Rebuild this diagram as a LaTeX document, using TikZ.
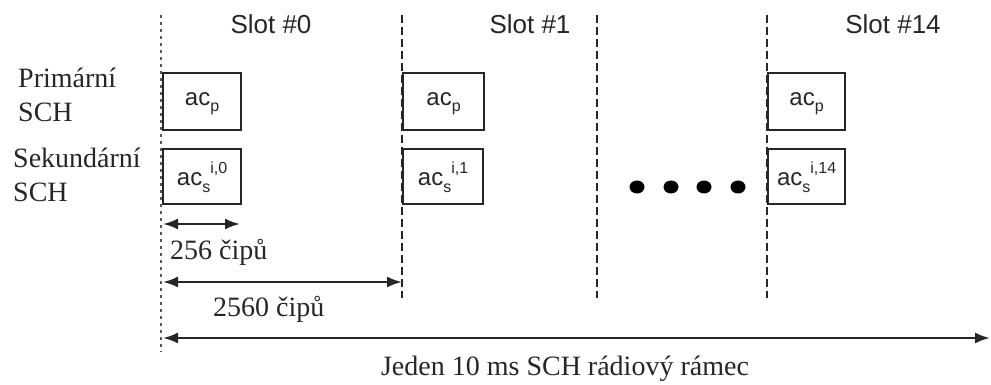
\documentclass[tikz,border=0pt]{standalone}
\usepackage{fontspec}
\setmainfont{Liberation Serif}
\newfontfamily\arialf{Liberation Sans}
\usetikzlibrary{arrows.meta}
\tikzset{
  box/.style={draw=black!85, line width=2.2pt, inner sep=0pt, anchor=north west, minimum height=#1},
  box/.default=57pt,
  slotline/.style={draw=black!85, line width=2.2pt, dash pattern=on 8pt off 4pt},
  firstline/.style={draw=black!65, line width=2.2pt, dash pattern=on 3pt off 4pt},
  serif/.style={font=\fontsize{28}{30}\selectfont, inner sep=0pt, text=black!85},
  sanslabel/.style={font=\arialf\fontsize{26}{28}\selectfont, inner sep=0pt, text=black!85},
  boxtext/.style={font=\arialf\fontsize{24}{26}\selectfont, text=black!85},
  dimarrow/.style={line width=2.2pt, black!85, {Latex[length=15pt,width=11pt]}-{Latex[length=15pt,width=11pt]}}
}
\newcommand{\lowp}[1]{\raisebox{-0.28em}{\fontsize{16}{16}\selectfont #1}}
\newcommand{\highp}[1]{\raisebox{0.5em}{\fontsize{16}{16}\selectfont #1}}
\begin{document}
\begin{tikzpicture}[x=1pt,y=-1pt]
\useasboundingbox (0,0) rectangle (991,385);
% vertical slot lines
\coordinate (l0t) at (161,15);  \coordinate (l0b) at (161,352);
\coordinate (l1t) at (402,15);  \coordinate (l1b) at (402,298);
\coordinate (l2t) at (597,15);  \coordinate (l2b) at (597,298);
\coordinate (l3t) at (767,15);  \coordinate (l3b) at (767,298);
\draw[firstline] (l0t) -- (l0b);
\draw[slotline] (l1t) -- (l1b);
\draw[slotline] (l2t) -- (l2b);
\draw[slotline] (l3t) -- (l3b);
% slot labels
\node[sanslabel] (s0lab) at (271,24) {Slot \#0};
\node[sanslabel] (s1lab) at (530,24) {Slot \#1};
\node[sanslabel] (s14lab) at (893,24) {Slot \#14};
% row labels
\node[serif, anchor=west] (prim) at (18,78) {Primární};
\node[serif, anchor=west] (prims) at (18,112) {SCH};
\node[serif, anchor=west] (sek) at (13,158) {Sekundární};
\node[serif, anchor=west] (seks) at (13,192) {SCH};
% boxes
\node[box, minimum width=78pt] (p0) at (162,72) {};
\node[box=55pt, minimum width=78pt] (q0) at (162,148) {};
\node[box, minimum width=81pt] (p1) at (402,72) {};
\node[box=55pt, minimum width=80pt] (q1) at (402,148) {};
\node[box, minimum width=77pt] (p14) at (767,72) {};
\node[box=55pt, minimum width=77pt] (q14) at (767,148) {};
\node[boxtext] (tp0) at ([yshift=-2pt]p0.center) {ac\lowp{p}};
\node[boxtext] (tp1) at ([yshift=-2pt]p1.center) {ac\lowp{p}};
\node[boxtext] (tp14) at ([yshift=-2pt]p14.center) {ac\lowp{p}};
\node[boxtext] (tq0) at ([yshift=-1pt]q0.center) {ac\lowp{s}\highp{i,0}};
\node[boxtext] (tq1) at ([yshift=-1pt]q1.center) {ac\lowp{s}\highp{i,1}};
\node[boxtext] (tq14) at ([yshift=-1pt]q14.center) {ac\lowp{s}\highp{i,14}};
% dots
\foreach \x in {637,671,704,738}
  \fill[black] (\x,187) ellipse [x radius=7.5pt, y radius=6.5pt];
% dimension arrows
\coordinate (a1l) at (163,224); \coordinate (a1r) at (240,224);
\coordinate (a2l) at (163,282); \coordinate (a2r) at (402,282);
\coordinate (a3l) at (163,338); \coordinate (a3r) at (990,338);
\draw[dimarrow] (a1l) -- (a1r);
\draw[dimarrow] (a2l) -- (a2r);
\draw[dimarrow] (a3l) -- (a3r);
\node[serif, anchor=west] (t256) at (170,252) {256 čipů};
\node[serif, anchor=west] (t2560) at (213,309) {2560 čipů};
\node[serif] (tframe) at (565,369) {Jeden 10 ms SCH rádiový rámec};
\end{tikzpicture}
\end{document}
